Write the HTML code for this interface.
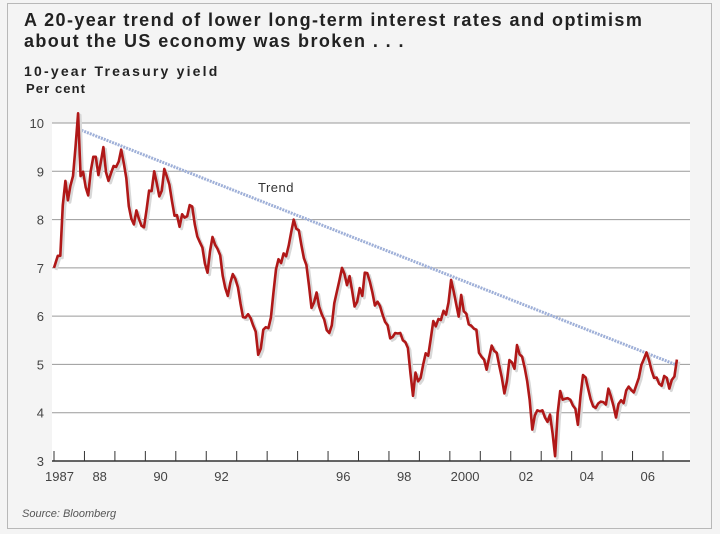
<!DOCTYPE html>
<html><head><meta charset="utf-8"><style>
body{margin:0;background:#fff;}
#wrap{position:relative;width:720px;height:534px;background:#f4f4f4;font-family:"Liberation Sans",sans-serif;overflow:hidden;}
#frame{position:absolute;left:7px;top:3px;width:703px;height:524px;border:1px solid #b8b8b8;}
.t{position:absolute;color:#222;font-weight:bold;}
</style></head><body>
<div id="wrap">
<div id="frame"></div>
<div class="t" style="left:24px;top:10px;font-size:18px;letter-spacing:1.4px;line-height:21px">A 20-year trend of lower long-term interest rates and optimism<br>about the US economy was broken . . .</div>
<div class="t" style="left:24px;top:63px;font-size:14px;letter-spacing:2.2px">10-year Treasury yield</div>
<div class="t" style="left:26px;top:81px;font-size:13px;letter-spacing:1.1px">Per cent</div>
<div style="position:absolute;left:22px;top:508px;font-size:11px;font-style:italic;color:#555">Source: Bloomberg</div>
<svg id="chart" width="720" height="534" style="position:absolute;left:0;top:0"></svg>
</div>
<script>
const years=[1987,1988,1989,1990,1991,1992,1993,1994,1995,1996,1997,1998,1999,2000,2001,2002,2003,2004,2005,2006,2007];
const yields=[
7.0,7.25,7.25,8.3,8.8,8.4,8.7,8.9,9.5,10.2,8.9,8.99,
8.67,8.5,9.0,9.3,9.3,8.92,9.2,9.5,8.98,8.8,8.96,9.11,
9.09,9.2,9.45,9.18,8.86,8.28,8.02,7.9,8.19,8.01,7.87,7.84,
8.21,8.6,8.59,9.0,8.76,8.48,8.6,9.05,8.89,8.72,8.39,8.08,
8.09,7.85,8.11,8.04,8.07,8.3,8.27,7.90,7.65,7.53,7.42,7.09,
6.9,7.34,7.64,7.48,7.39,7.26,6.84,6.59,6.42,6.69,6.87,6.77,
6.60,6.26,5.98,5.97,6.04,5.96,5.81,5.68,5.20,5.33,5.72,5.77,
5.75,5.97,6.48,6.97,7.18,7.10,7.30,7.24,7.46,7.74,8.0,7.81,
7.78,7.47,7.20,7.06,6.63,6.17,6.28,6.49,6.20,6.04,5.93,5.71,
5.65,5.81,6.27,6.51,6.74,7.0,6.87,6.64,6.83,6.53,6.20,6.30,
6.58,6.42,6.9,6.89,6.71,6.49,6.22,6.30,6.21,6.03,5.88,5.81,
5.54,5.57,5.65,5.64,5.65,5.50,5.46,5.34,4.81,4.35,4.83,4.65,
4.72,5.00,5.23,5.18,5.54,5.90,5.79,5.94,5.92,6.11,6.03,6.28,
6.75,6.52,6.26,5.99,6.44,6.10,6.05,5.83,5.80,5.74,5.72,5.24,
5.16,5.10,4.89,5.14,5.39,5.28,5.24,4.97,4.73,4.4,4.65,5.09,
5.04,4.91,5.4,5.21,5.16,4.93,4.65,4.26,3.65,3.94,4.05,4.03,
4.05,3.90,3.81,3.96,3.57,3.1,3.98,4.45,4.27,4.29,4.30,4.27,
4.15,4.08,3.75,4.35,4.78,4.73,4.50,4.28,4.13,4.10,4.19,4.23,
4.22,4.17,4.5,4.34,4.14,3.9,4.18,4.26,4.20,4.46,4.54,4.47,
4.42,4.57,4.72,4.99,5.11,5.25,5.09,4.88,4.72,4.73,4.60,4.56,
4.76,4.72,4.50,4.68,4.75,5.1];
const yTicks=[3,4,5,6,7,8,9,10];
const xLabels=["1987","88","90","92","96","98","2000","02","04","06"];
const xLabelYears=[1987,1988,1990,1992,1996,1998,2000,2002,2004,2006];
const trendStart=[1987.9,9.85];
const trendEnd=[2007.4,5.0];
const NS="http://www.w3.org/2000/svg";
const svg=document.getElementById('chart');
const X0=54,X1=663,Y0=3,Y1=10,PY0=461,PY1=123;
const xs=t=>X0+(t-1987)*(X1-X0)/(2007-1987);
const ys=v=>PY0+(v-Y0)*(PY1-PY0)/(Y1-Y0);
function mk(tag,attrs){const e=document.createElementNS(NS,tag);for(const k in attrs)e.setAttribute(k,attrs[k]);svg.appendChild(e);return e;}
let bg=mk('rect',{x:52,y:123,width:638,height:338,fill:'#ffffff'});


yTicks.forEach(v=>{
  if(v>Y0){const l=mk('line',{x1:52,x2:690,y1:ys(v),y2:ys(v),stroke:'#9a9a9a','stroke-width':1});
  
  }
  const t=mk('text',{x:44,y:ys(v)+5,'text-anchor':'end','font-size':13,fill:'#444','font-family':'Liberation Sans, sans-serif'});
  t.textContent=v;
  
  
});
const ax=mk('line',{x1:52,x2:690,y1:PY0,y2:PY0,stroke:'#333','stroke-width':1.5});


for(let yr=1987;yr<=2007;yr++){
  const tk=mk('line',{x1:xs(yr),x2:xs(yr),y1:PY0-10,y2:PY0,stroke:'#333','stroke-width':1});
  
  
}
xLabels.forEach((s,i)=>{
  const yr=xLabelYears[i];
  const x=yr===1987?xs(1987)-9:xs(yr+0.5);
  const t=mk('text',{x:x,y:481,'text-anchor':yr===1987?'start':'middle','font-size':13,fill:'#444','font-family':'Liberation Sans, sans-serif'});
  t.textContent=s;
  
  
});
const tr=mk('line',{x1:xs(trendStart[0]),y1:ys(trendStart[1]),x2:xs(trendEnd[0]),y2:ys(trendEnd[1]),stroke:'#9fb0d8','stroke-width':3,'stroke-dasharray':'2,1'});


const tl=mk('text',{x:258,y:192,'font-size':13,fill:'#333','font-family':'Liberation Sans, sans-serif','letter-spacing':'0.5'});
tl.textContent='Trend';


let d='';
yields.forEach((v,i)=>{const t=1987+i/12+(i===0?0:0.04);d+=(i?'L':'M')+xs(t).toFixed(1)+','+ys(v).toFixed(1);});
const sh=mk('path',{d:d,fill:'none',stroke:'#d8d8d8','stroke-width':3,transform:'translate(2,2)','stroke-linejoin':'round'});


const ln=mk('path',{d:d,fill:'none',stroke:'#b01818','stroke-width':2.6,'stroke-linejoin':'round'});


</script>
</body></html>
